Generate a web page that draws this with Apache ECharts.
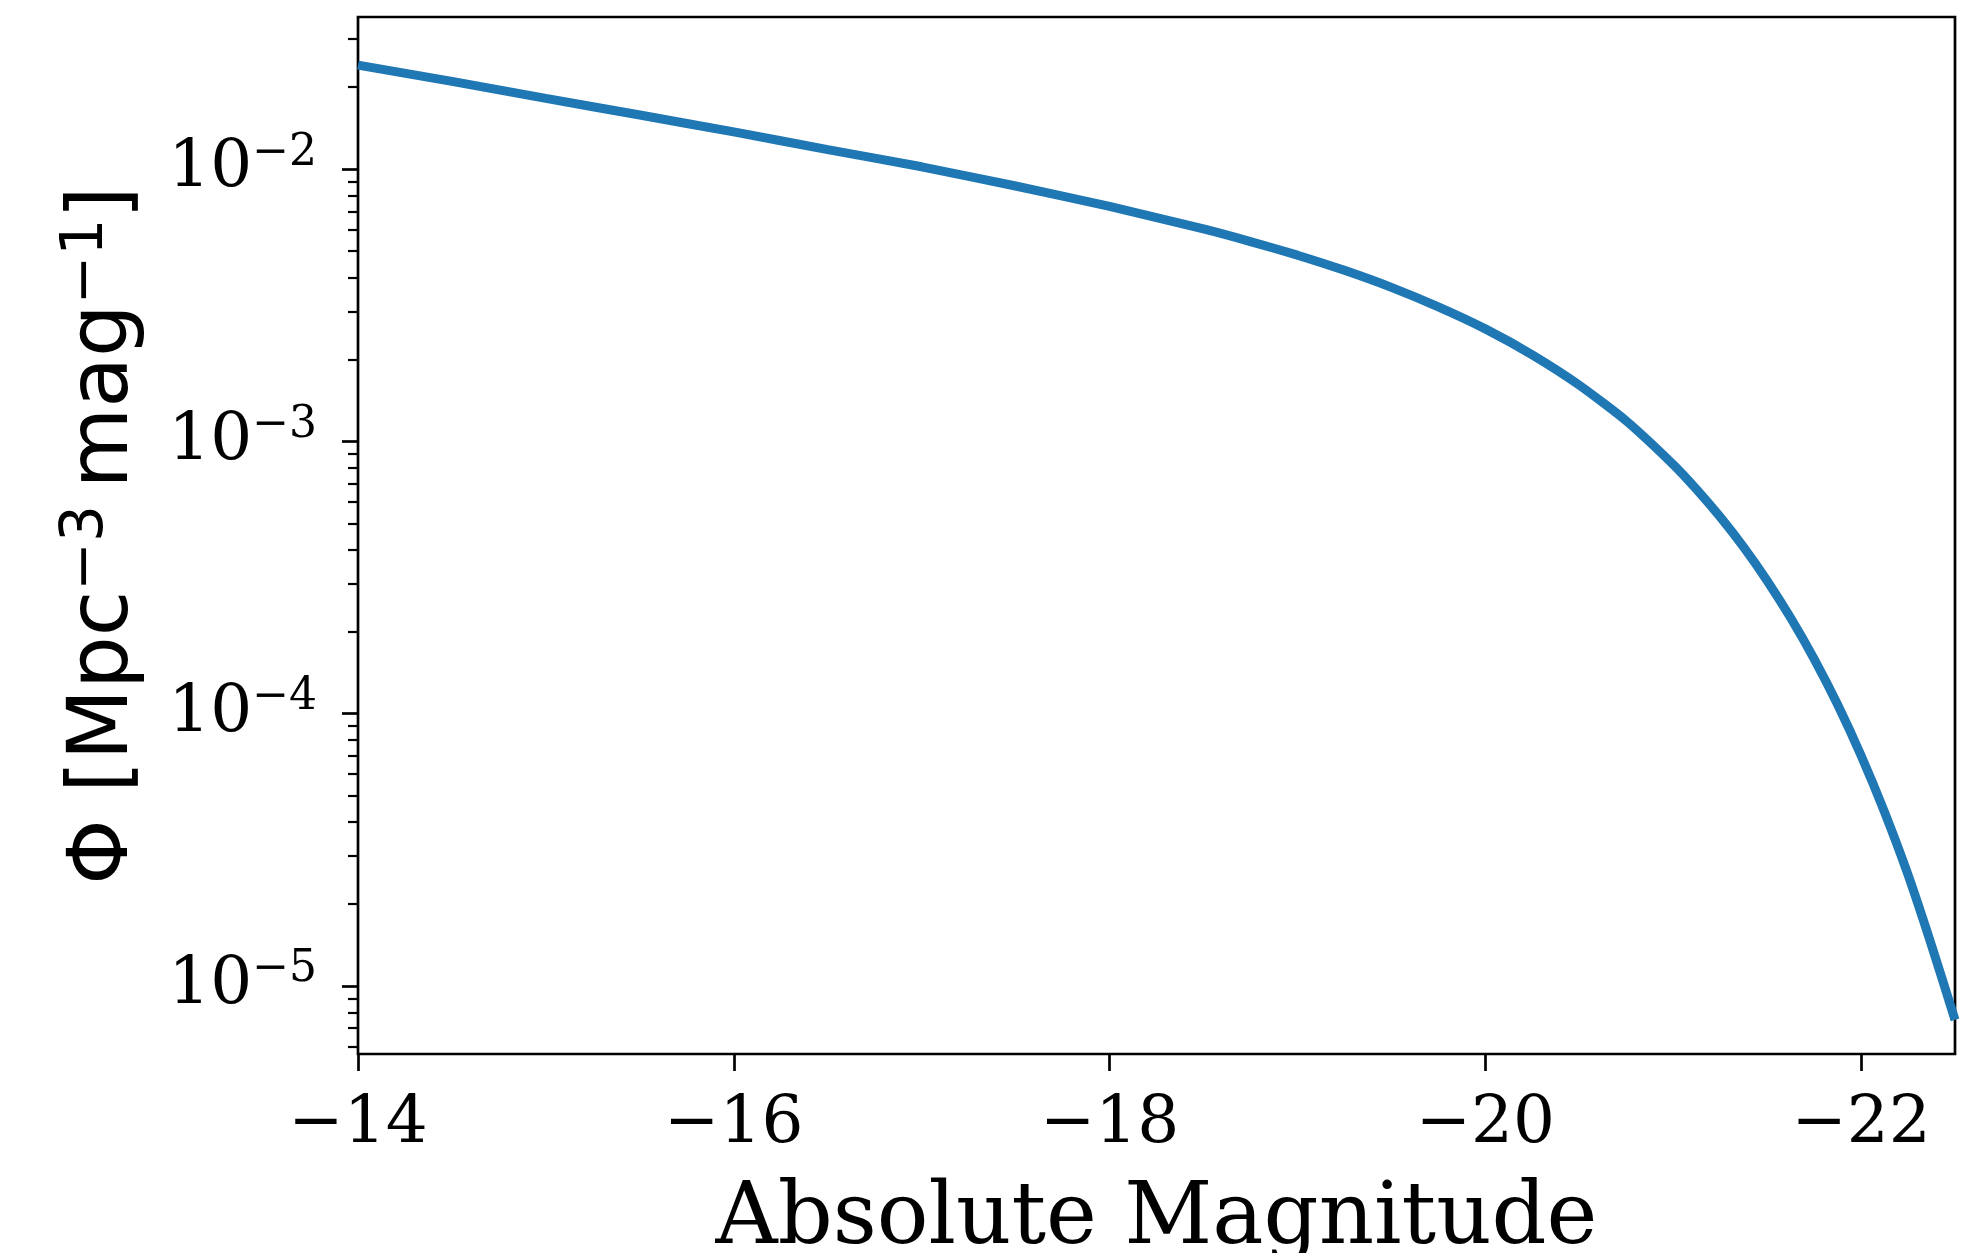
<!DOCTYPE html>
<html>
<head>
<meta charset="utf-8">
<script src="https://cdn.jsdelivr.net/npm/echarts@6/dist/echarts.min.js"></script>
<style>
  html, body { margin: 0; padding: 0; background: #ffffff; }
  #chart { width: 1982px; height: 1253px; }
</style>
</head>
<body>
<div id="chart"></div>
<script>
// Luminosity function: number density per magnitude bin
const magnitudes = [
  -14, -14.5, -15, -15.5, -16, -16.5, -17, -17.5, -18, -18.5, -18.75, -19, -19.25, -19.5,
  -19.75, -20, -20.25, -20.5, -20.75, -21, -21.125, -21.25, -21.375, -21.5,
  -21.625, -21.75, -21.875, -22, -22.125, -22.25, -22.375, -22.5
];
const phi = [
  0.0241, 0.0210, 0.0182, 0.0158, 0.0137, 0.0118, 0.0102, 0.00867, 0.00730, 0.00603, 0.00542, 0.00483, 0.00425, 0.00368,
  0.00312, 0.00259, 0.00208, 0.00161, 0.00119, 0.000823, 0.000666, 0.000528, 0.000409, 0.000308,
  0.000225, 0.000159, 0.000108, 0.0000702, 0.0000435, 0.0000256, 0.0000141, 0.0000075
];

// Axis ticks
const xTicks = [-14, -16, -18, -20, -22];
const yMajorTicks = [1e-5, 1e-4, 1e-3, 1e-2];
const yMinorMultipliers = [2, 3, 4, 5, 6, 7, 8, 9];
const yDecades = [-6, -5, -4, -3, -2];

const xRange = [-22.5, -14];
const yRange = [Math.pow(10, -5.25), Math.pow(10, -1.4412)];

const yMinorTicks = [];
yDecades.forEach(function (e) {
  yMinorMultipliers.forEach(function (k) {
    const v = k * Math.pow(10, e);
    if (v >= yRange[0] && v <= yRange[1]) yMinorTicks.push(v);
  });
});

const MINUS = '\u2212';
const lineData = magnitudes.map(function (m, i) { return [m, phi[i]]; });

const chart = echarts.init(document.getElementById('chart'), null, { renderer: 'canvas' });

const option = {
  backgroundColor: '#ffffff',
  animation: false,
  grid: {
    left: 358, right: 27, top: 17, bottom: 199,
    containLabel: false,
    outerBoundsMode: 'none',
    show: true, borderColor: '#000000', borderWidth: 2.7,
    backgroundColor: 'transparent'
  },
  xAxis: {
    type: 'value',
    min: xRange[0], max: xRange[1],
    inverse: true,
    position: 'bottom',
    axisLine: { show: false },
    splitLine: { show: false },
    axisTick: {
      show: true, inside: false, length: 17,
      customValues: xTicks,
      lineStyle: { color: '#000000', width: 2.7 }
    },
    axisLabel: {
      customValues: xTicks,
      margin: 38,
      color: '#000000',
      fontFamily: 'DejaVu Serif',
      fontSize: 66,
      formatter: function (v) { return (v < 0 ? MINUS : '') + Math.abs(v); }
    },
    name: 'Absolute Magnitude',
    nameLocation: 'middle',
    nameGap: 124,
    nameTextStyle: { color: '#000000', fontFamily: 'DejaVu Serif', fontSize: 86 }
  },
  yAxis: [
    {
      type: 'log', logBase: 10,
      min: yRange[0], max: yRange[1],
      position: 'left',
      axisLine: { show: false },
      splitLine: { show: false },
      axisTick: {
        show: true, inside: false, length: 16,
        customValues: yMajorTicks,
        lineStyle: { color: '#000000', width: 2.7 }
      },
      axisLabel: {
        customValues: yMajorTicks,
        margin: 41,
        color: '#000000',
        formatter: function (v) {
          const e = Math.round(Math.log10(v));
          return '{b|10}{s|' + (e < 0 ? MINUS : '') + Math.abs(e) + '}';
        },
        rich: {
          b: { fontFamily: 'DejaVu Serif', fontSize: 66, lineHeight: 76, color: '#000000' },
          s: { fontFamily: 'DejaVu Serif', fontSize: 44, lineHeight: 44, verticalAlign: 'top', color: '#000000' }
        }
      },
      name: '{m|\u03A6 [Mpc}{s|' + MINUS + '3}{m|\u2009mag}{s|' + MINUS + '1}{m|]}',
      nameLocation: 'middle',
      nameRotate: 90,
      nameGap: 205,
      nameTextStyle: {
        rich: {
          m: { fontFamily: 'DejaVu Sans', fontSize: 83, lineHeight: 95, color: '#000000' },
          s: { fontFamily: 'DejaVu Sans', fontSize: 58, lineHeight: 58, verticalAlign: 'top', color: '#000000' }
        }
      }
    },
    {
      type: 'log', logBase: 10,
      min: yRange[0], max: yRange[1],
      position: 'left',
      offset: 0,
      axisLine: { show: false },
      splitLine: { show: false },
      axisTick: {
        show: true, inside: false, length: 10,
        customValues: yMinorTicks,
        lineStyle: { color: '#000000', width: 2.2 }
      },
      axisLabel: { show: false }
    }
  ],
  series: [
    {
      type: 'line',
      xAxisIndex: 0,
      yAxisIndex: 0,
      data: lineData,
      showSymbol: false,
      smooth: 0.2,
      clip: true,
      lineStyle: { color: '#1f77b4', width: 9 }
    }
  ]
};

chart.setOption(option);
</script>
</body>
</html>
